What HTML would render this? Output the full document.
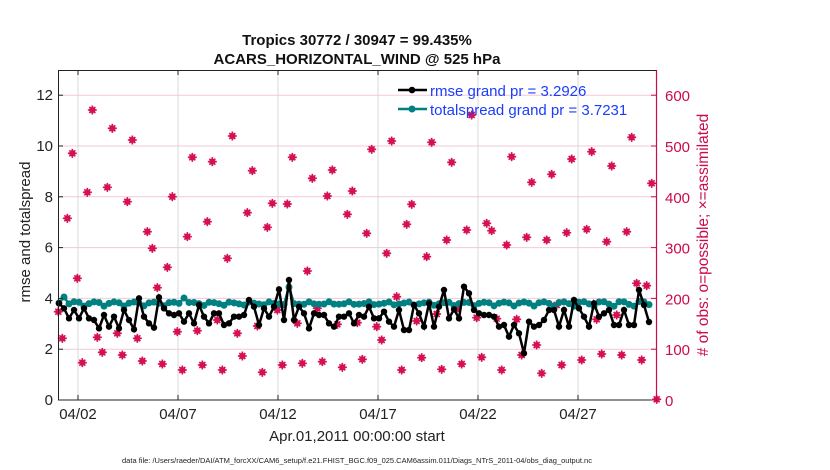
<!DOCTYPE html>
<html><head><meta charset="utf-8"><style>
html,body{margin:0;padding:0;background:#fff;}
svg{display:block;font-family:"Liberation Sans",sans-serif;}
</style></head><body>
<svg id="s" width="830" height="470" viewBox="0 0 830 470" xmlns="http://www.w3.org/2000/svg">
<rect width="830" height="470" fill="#fff"/>
<g id="grid"></g>
<g id="pink"></g>
<g id="lines"></g>
<rect x="58.5" y="70.5" width="598" height="329.5" fill="none" stroke="#222" stroke-width="1"/>
<line x1="656.5" y1="70.5" x2="656.5" y2="400" stroke="#cc0a4f" stroke-width="1.2"/>
<g id="ticks"></g>
<text x="357" y="45" text-anchor="middle" font-size="15" font-weight="bold" fill="#111">Tropics 30772 / 30947 = 99.435%</text>
<text x="357" y="64" text-anchor="middle" font-size="15" font-weight="bold" fill="#111">ACARS_HORIZONTAL_WIND @ 525 hPa</text>
<text x="357" y="441" text-anchor="middle" font-size="15" fill="#222">Apr.01,2011 00:00:00 start</text>
<text x="357" y="463" text-anchor="middle" font-size="7.5" fill="#222">data file: /Users/raeder/DAI/ATM_forcXX/CAM6_setup/f.e21.FHIST_BGC.f09_025.CAM6assim.011/Diags_NTrS_2011-04/obs_diag_output.nc</text>
<text transform="translate(30,232) rotate(-90)" text-anchor="middle" font-size="15" fill="#222">rmse and totalspread</text>
<text transform="translate(708,235) rotate(-90)" text-anchor="middle" font-size="15.5" fill="#cc0a4f"># of obs: o=possible; ×=assimilated</text>
<g>
<line x1="398" y1="90" x2="427" y2="90" stroke="#000" stroke-width="2.5"/>
<circle cx="412" cy="90" r="3.3" fill="#000"/>
<text x="430" y="96" font-size="15" fill="#1a3cff">rmse grand pr = 3.2926</text>
<line x1="398" y1="109" x2="427" y2="109" stroke="#008080" stroke-width="2.5"/>
<circle cx="412" cy="109" r="3.5" fill="#008080"/>
<text x="430" y="115" font-size="15" fill="#1a3cff">totalspread grand pr = 3.7231</text>
</g>
</svg>
<script>
var NS="http://www.w3.org/2000/svg";
function el(p,t,a,txt){var e=document.createElementNS(NS,t);for(var k in a)e.setAttribute(k,a[k]);if(txt!==undefined)e.textContent=txt;document.getElementById(p).appendChild(e);return e;}
for(var i=1;i<=6;i++){var y=400-i*50.8;el('grid','line',{x1:58,x2:656,y1:y,y2:y,stroke:'#f2c9d8','stroke-width':1});}
var days=['04/02','04/07','04/12','04/17','04/22','04/27'];
for(var i=0;i<6;i++){var x=78+i*100;el('grid','line',{x1:x,x2:x,y1:70,y2:400,stroke:'#d8d8d8','stroke-width':1});
el('ticks','line',{x1:x,x2:x,y1:400,y2:395,stroke:'#222'});el('ticks','line',{x1:x,x2:x,y1:70,y2:75,stroke:'#222'});
el('ticks','text',{x:x,y:419,'text-anchor':'middle','font-size':15,fill:'#222'},days[i]);}
for(var i=0;i<=6;i++){var y=400-i*50.8;
el('ticks','text',{x:53,y:y+5,'text-anchor':'end','font-size':15,fill:'#222'},String(i*2));
el('ticks','line',{x1:58,x2:63,y1:y,y2:y,stroke:'#222'});
el('ticks','line',{x1:651,x2:656,y1:y,y2:y,stroke:'#cc0a4f'});
el('ticks','text',{x:665,y:y+6,'font-size':15,fill:'#cc0a4f'},String(i*100));}
var z1=[[10,755],[22,835],[37,475],[52,280],[67,655],[82,908],[97,397],[112,150],[127,832],[142,877],[157,382],[172,205],[187,820],[202,885],[217,425],[232,240],[247,835],[262,903],[277,515],[292,565],[307,683],[322,912],[337,622],[352,410],[367,815],[382,930],[397,530],[412,292],[427,812],[442,915],[457,485],[472,305],[487,780],[502,930],[517,595],[532,228],[547,820],[562,888],[577,458],[592,332],[607,798],[622,937],[637,502],[652,430],[667,750],[682,915],[697,432],[712,292],[727,790],[742,910],[757,633],[772,355],[787,745],[802,905],[817,408],[832,330],[847,793],[862,922],[877,463],[892,393],[907,788],[922,898]];
var z2=[[35,520],[50,268],[65,800],[80,840],[95,580],[110,243],[125,710],[140,930],[155,493],[170,433],[185,783],[200,893],[215,590],[230,247],[245,762],[260,928],[275,540],[290,307],[305,748],[320,912],[335,510],[350,165],[365,773],[380,892],[395,490],[410,512],[425,776],[440,930],[455,555],[470,290],[485,778],[500,885],[515,532],[530,367],[545,855],[560,940],[575,540],[590,343],[605,735],[620,915],[635,518],[650,297],[665,730],[680,900],[695,508],[710,275],[725,778],[740,882],[755,545],[770,318],[785,765],[800,885],[815,515],[830,232],[845,670],[860,900],[875,677],[890,370],[905,1018]];
var pts=[];z1.forEach(function(p){pts.push([55+p[0]/3,60+p[1]/3]);});z2.forEach(function(p){pts.push([355+p[0]/3,60+p[1]/3]);});
pts.forEach(function(p){
el('pink','rect',{x:p[0]-2.8,y:p[1]-2.8,width:5.6,height:5.6,fill:'#d6114f',transform:'rotate(45 '+p[0]+' '+p[1]+')'});
el('pink','path',{d:'M'+(p[0]-4.5)+' '+p[1]+'h9M'+p[0]+' '+(p[1]-4.5)+'v9M'+(p[0]-3)+' '+(p[1]-3)+'l6 6M'+(p[0]+3)+' '+(p[1]-3)+'l-6 6',stroke:'#d6114f','stroke-width':1.6});
});
var b1=[730,745,775,750,775,745,775,780,805,765,800,770,805,750,780,808,715,770,790,803,712,745,760,765,760,785,760,790,735,770,790,760,760,795,790,770,770,765,720,740,795,745,770,740,688,780,660,780,740,760,805,760,765,765,790,800,770,770,760,790,765];
var b2=[770,740,775,775,755,785,800,750,810,810,735,760,800,730,800,740,690,775,748,775,680,700,750,760,765,765,770,800,795,830,795,820,880,785,800,795,780,750,750,800,750,800,720,745,770,800,730,770,760,750,795,795,690,720,790];
var by=[];b1.forEach(function(v){by.push(60+v/3);});b2.forEach(function(v){by.push(60+v/3);});
var N=119;
by=by.slice(0,N);
// ensure end matches reference
by[N-1]=322;by[N-2]=305;by[N-3]=290;by[N-4]=325;by[N-5]=325;by[N-6]=310;
var bp='';for(var i=0;i<N;i++){var x=59+i*5;bp+=(i?'L':'M')+x+' '+by[i];}
var tp='';var ty=[];
for(var i=0;i<N;i++){var v=304+Math.sin(i*1.6)*2.2+((i%4==0)?-2:0);if(i==1)v=297;if(i==0)v=303;if(i==46)v=287;if(i==25)v=298;ty.push(v);tp+=(i?'L':'M')+(59+i*5)+' '+v;}
el('lines','path',{d:tp,stroke:'#008080','stroke-width':2.5,fill:'none'});
for(var i=0;i<N;i++)el('lines','circle',{cx:59+i*5,cy:ty[i],r:3.5,fill:'#008080'});
el('lines','path',{d:bp,stroke:'#000','stroke-width':2.5,fill:'none'});
for(var i=0;i<N;i++)el('lines','circle',{cx:59+i*5,cy:by[i],r:3.2,fill:'#000'});
</script>
</body></html>
